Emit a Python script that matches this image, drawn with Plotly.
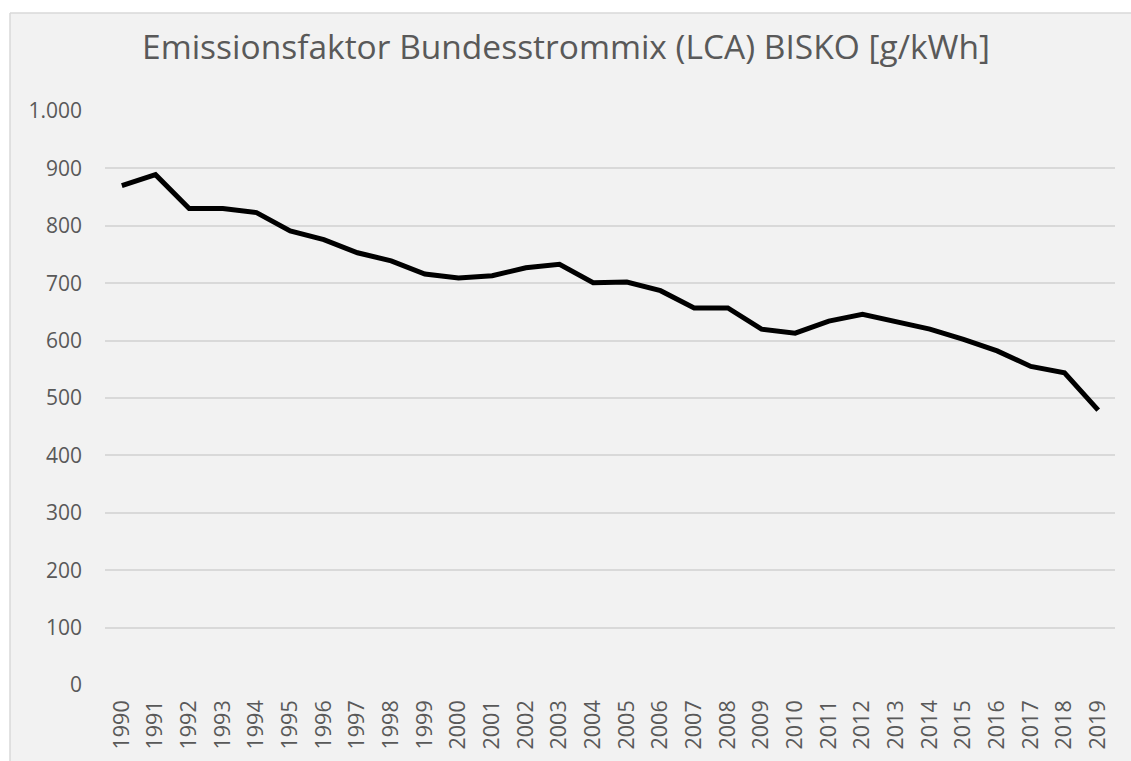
import plotly.graph_objects as go

# Emissionsfaktor Bundesstrommix (LCA) BISKO, g/kWh
years = [str(y) for y in range(1990, 2020)]
factors = [870, 889, 830, 830, 823, 791, 776, 753, 739, 716,
           709, 713, 727, 733, 701, 702, 687, 657, 657, 620,
           613, 634, 646, 633, 620, 602, 582, 555, 544, 479]

y_ticks = [0, 100, 200, 300, 400, 500, 600, 700, 800, 900, 1000]
y_tick_text = ["0", "100", "200", "300", "400", "500", "600", "700", "800", "900", "1.000"]

W, H = 1131, 761
L, R, T, B = 105, 16, 110.5, 74
pw, ph = W - L - R, H - T - B

# pixel -> paper coordinate helpers
def px(x):
    return (x - L) / pw

def py(y):
    return (H - B - y) / ph

fig = go.Figure()
fig.add_trace(go.Scatter(
    x=years, y=factors, mode="lines",
    line=dict(color="#000000", width=5, shape="linear"),
    hoverinfo="x+y", showlegend=False,
))

# white margin strips above and left of the chart area, then its border
white = dict(type="rect", xref="paper", yref="paper", fillcolor="#ffffff",
             line=dict(width=0), layer="below")
fig.add_shape(**white, x0=px(-5), x1=px(W + 5), y0=py(12), y1=py(-5))
fig.add_shape(**white, x0=px(-5), x1=px(10), y0=py(H + 5), y1=py(-5))
edge = dict(type="line", xref="paper", yref="paper",
            line=dict(color="#d9d9d9", width=1.5), layer="below")
fig.add_shape(**edge, x0=px(10), x1=px(W + 5), y0=py(12), y1=py(12))
fig.add_shape(**edge, x0=px(10), x1=px(10), y0=py(12), y1=py(H + 5))

fig.update_layout(
    width=W, height=H,
    margin=dict(l=L, r=R, t=T, b=B),
    paper_bgcolor="#f2f2f2",
    plot_bgcolor="rgba(0,0,0,0)",
    font=dict(family="Open Sans, sans-serif", color="#595959"),
    title=dict(text="Emissionsfaktor Bundesstrommix (LCA) BISKO [g/kWh]",
               x=566 / W, xref="container", xanchor="center",
               y=(H - 47) / H, yanchor="middle",
               font=dict(size=33.5, color="#595959")),
    xaxis=dict(type="category", showgrid=False, zeroline=False,
               showline=False, ticks="", tickangle=-90,
               ticklabelstandoff=10,
               tickfont=dict(size=21.5, color="#595959"),
               range=[-0.5, len(years) - 0.5]),
    yaxis=dict(range=[0, 1000], tickvals=y_ticks, ticktext=y_tick_text,
               showgrid=True, gridcolor="#d9d9d9", gridwidth=1.5,
               zeroline=False, showline=False, ticks="",
               ticklabelstandoff=22,
               tickfont=dict(size=21, color="#595959")),
)

fig.write_html("out.html")
